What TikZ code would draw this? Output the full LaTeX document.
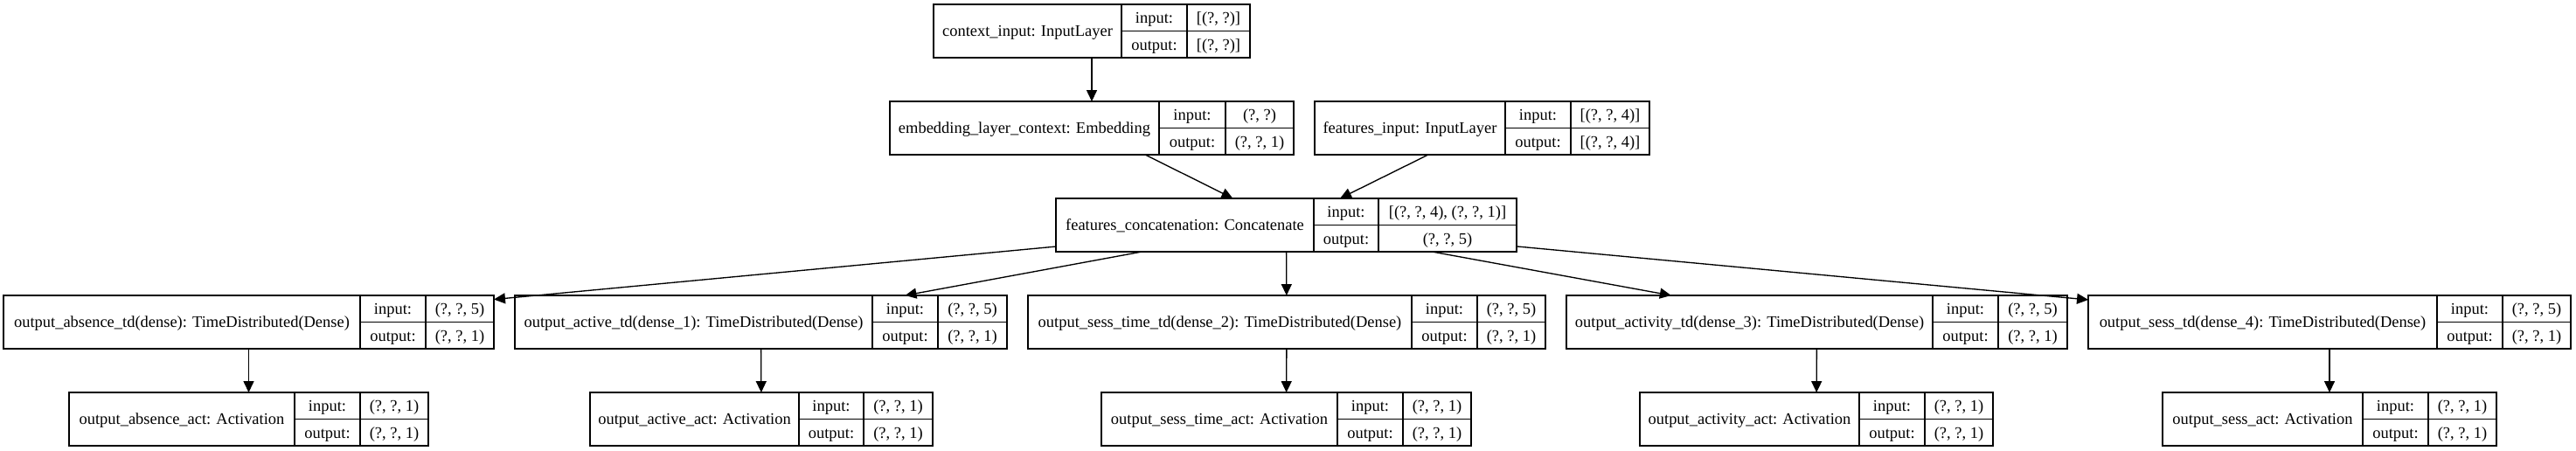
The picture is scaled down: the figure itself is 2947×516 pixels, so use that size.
\documentclass[tikz,border=0pt]{standalone}
\usepackage{fontspec}
\setmainfont{Liberation Serif}
\usetikzlibrary{arrows.meta}
\tikzset{
  boxline/.style={line width=1pt, draw=black},
  layer/.style={draw=black, line width=1pt, rectangle, inner sep=0pt, outer sep=0pt, fill=white},
  lbl/.style={anchor=base, inner sep=0pt, font=\fontsize{13.8}{16}\selectfont},
  edge/.style={line width=1pt, draw=black, -{Triangle[length=9.7pt,width=9pt]}},
}
% #1 id, #2 left, #3 divider 1, #4 divider 2, #5 right, #6 top, #7 name, #8 input value, #9 output value
\newcommand{\layerbox}[9]{%
  \node[layer, minimum width={(#5-#2)*0.7477pt}, minimum height={61*0.7477pt}] (#1) at ({(#2+#5)/2},{#6+30.5}) {};
  \draw[boxline] (#3,#6) -- (#3,{#6+61});
  \draw[boxline] (#4,#6) -- (#4,{#6+61});
  \draw[boxline] (#3,{#6+30.5}) -- (#5,{#6+30.5});
  \node[lbl] (#1-name) at ({(#2+#3)/2},{#6+36.5}) {#7};
  \node[lbl] (#1-il) at ({(#3+#4)/2},{#6+21.5}) {input:};
  \node[lbl] (#1-ol) at ({(#3+#4)/2},{#6+52}) {output:};
  \node[lbl] (#1-iv) at ({(#4+#5)/2},{#6+21.5}) {#8};
  \node[lbl] (#1-ov) at ({(#4+#5)/2},{#6+52}) {#9};
}
\begin{document}
\begin{tikzpicture}[x=0.7477pt, y=-0.7477pt]
\useasboundingbox (0,0) rectangle (2947,516);
% rank 0
\layerbox{ctx}{1068}{1283}{1358}{1430}{5}{context\_input: InputLayer}{[(?, ?)]}{[(?, ?)]}
% rank 1
\layerbox{emb}{1018}{1326}{1402}{1480}{116}{embedding\_layer\_context: Embedding}{(?, ?)}{(?, ?, 1)}
\layerbox{feat}{1504}{1722}{1797}{1887}{116}{features\_input: InputLayer}{[(?, ?, 4)]}{[(?, ?, 4)]}
% rank 2
\layerbox{cat}{1208}{1503}{1577}{1735}{227}{features\_concatenation: Concatenate}{[(?, ?, 4), (?, ?, 1)]}{(?, ?, 5)}
% rank 3
\layerbox{abstd}{4}{412}{487}{565}{338}{output\_absence\_td(dense): TimeDistributed(Dense)}{(?, ?, 5)}{(?, ?, 1)}
\layerbox{acttd}{589}{998}{1073}{1152}{338}{output\_active\_td(dense\_1): TimeDistributed(Dense)}{(?, ?, 5)}{(?, ?, 1)}
\layerbox{sttd}{1176}{1615}{1690}{1768}{338}{output\_sess\_time\_td(dense\_2): TimeDistributed(Dense)}{(?, ?, 5)}{(?, ?, 1)}
\layerbox{avtd}{1792}{2211}{2286}{2365}{338}{output\_activity\_td(dense\_3): TimeDistributed(Dense)}{(?, ?, 5)}{(?, ?, 1)}
\layerbox{sstd}{2389}{2788}{2863}{2941}{338}{output\_sess\_td(dense\_4): TimeDistributed(Dense)}{(?, ?, 5)}{(?, ?, 1)}
% rank 4
\layerbox{absact}{79}{337}{412}{490}{449}{output\_absence\_act: Activation}{(?, ?, 1)}{(?, ?, 1)}
\layerbox{actact}{675}{914}{988}{1067}{449}{output\_active\_act: Activation}{(?, ?, 1)}{(?, ?, 1)}
\layerbox{stact}{1260}{1530}{1605}{1683}{449}{output\_sess\_time\_act: Activation}{(?, ?, 1)}{(?, ?, 1)}
\layerbox{avact}{1876}{2127}{2202}{2280}{449}{output\_activity\_act: Activation}{(?, ?, 1)}{(?, ?, 1)}
\layerbox{ssact}{2474}{2703}{2778}{2856}{449}{output\_sess\_act: Activation}{(?, ?, 1)}{(?, ?, 1)}
% edges
\draw[edge] (ctx) -- (emb);
\draw[edge] (emb) -- (cat);
\draw[edge] (feat) -- (cat);
\draw[edge] (cat) -- (abstd);
\draw[edge] (cat) -- (acttd);
\draw[edge] (cat) -- (sttd);
\draw[edge] (cat) -- (avtd);
\draw[edge] (cat) -- (sstd);
\draw[edge] (abstd) -- (absact);
\draw[edge] (acttd) -- (actact);
\draw[edge] (sttd) -- (stact);
\draw[edge] (avtd) -- (avact);
\draw[edge] (sstd) -- (ssact);
\end{tikzpicture}
\end{document}
